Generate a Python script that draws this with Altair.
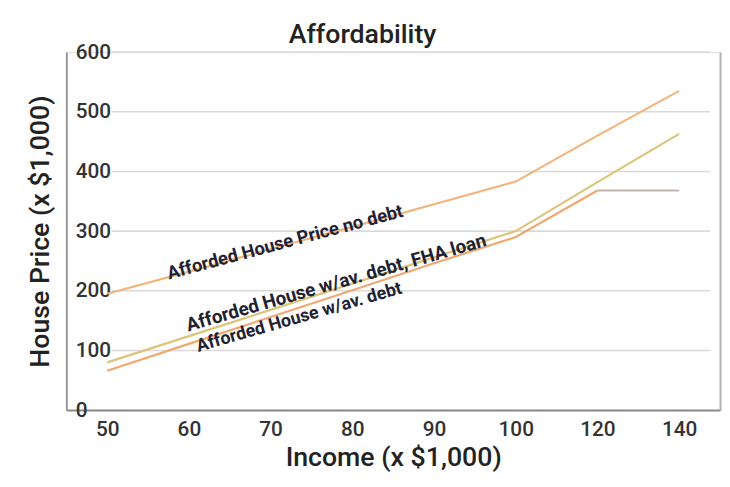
import altair as alt
import pandas as pd

# ---- data ----
incomes = ["50", "60", "70", "80", "90", "100", "120", "140"]
no_debt = [195, 232, 270, 307, 345, 383, 460, 535]
fha_loan = [80, 124, 168, 212, 256, 300, 382, 463]
av_debt = [66, 111, 156, 201, 246, 290, 368]          # ends at 120
cap_x = ["120", "140"]
cap_y = [368, 368]
grid_values = [100, 200, 300, 400, 500, 600]

series_names = ["no debt", "FHA loan", "av. debt", "cap"]
series_colors = ["#f3b47c", "#dcc47a", "#f1a870", "#c2b4ad"]

rows = []
for name, xs, ys in [
    ("no debt", incomes, no_debt),
    ("FHA loan", incomes, fha_loan),
    ("av. debt", incomes[:len(av_debt)], av_debt),
    ("cap", cap_x, cap_y),
]:
    for x, y in zip(xs, ys):
        rows.append({"series": name, "income": x, "price": y, "idx": incomes.index(x)})
lines_df = pd.DataFrame(rows)
grid_df = pd.DataFrame({"v": grid_values})

labels = ["Afforded House Price no debt",
          "Afforded House w/av. debt, FHA loan",
          "Afforded House w/av. debt"]
label_x = ["70", "80", "70"]
label_y = [275, 221, 141]
label_dx = [15, -17, 30]
label_angle = [345, 344, 344]
label_size = [18.5, 19, 18]

FONT = "Roboto, Liberation Sans, sans-serif"
W, H = 661, 362

xscale = alt.Scale(type="point", domain=incomes, padding=0.5)
yscale = alt.Scale(domain=[0, 600], nice=False, zero=True)

grid = alt.Chart(grid_df).mark_rule(color="#dadada", strokeWidth=1.6).encode(
    y=alt.Y("v:Q", scale=yscale,
            axis=alt.Axis(orient="left", title="House Price (x $1,000)",
                          values=[0, 100, 200, 300, 400, 500, 600],
                          grid=False, ticks=False, domain=True,
                          domainColor="#9a9a9a", domainWidth=2,
                          labelAlign="left", labelPadding=-9,
                          labelFont=FONT, labelFontSize=21, labelColor="#333333",
                          labelFontWeight=500,
                          labelFlush=False, labelOverlap=False, labelBound=False,
                          titleFont=FONT, titleFontSize=27, titleColor="#222222",
                          titleFontWeight=500, titlePadding=12)),
    x=alt.value(46),
    x2=alt.value(651),
)

right_frame = alt.Chart(grid_df).mark_rule(opacity=0).encode(
    y=alt.Y("v:Q", scale=yscale,
            axis=alt.Axis(orient="right", title=None, labels=False, ticks=False,
                          grid=False, domain=True, domainColor="#b0b0b0",
                          domainWidth=2)),
    x=alt.value(0),
    x2=alt.value(1),
)

lines = alt.Chart(lines_df).mark_line(strokeWidth=2.2).encode(
    x=alt.X("income:O", scale=xscale, sort=incomes,
            axis=alt.Axis(title="Income (x $1,000)", labelAngle=0, ticks=False,
                          grid=False, domain=True, domainColor="#8a8a8a",
                          domainWidth=2, labelPadding=9,
                          labelFont=FONT, labelFontSize=21, labelColor="#333333",
                          labelFontWeight=500,
                          titleFont=FONT, titleFontSize=27, titleColor="#222222",
                          titleFontWeight=500, titlePadding=5)),
    y=alt.Y("price:Q", scale=yscale, axis=None),
    color=alt.Color("series:N", scale=alt.Scale(domain=series_names, range=series_colors),
                    legend=None),
    order=alt.Order("idx:Q"),
)

text_layers = []
for lab, lx, ly, ldx, lang, lsz in zip(labels, label_x, label_y, label_dx,
                                      label_angle, label_size):
    tdf = pd.DataFrame({"label": [lab], "income": [lx], "price": [ly]})
    t = alt.Chart(tdf).mark_text(
        font=FONT, fontSize=lsz, fontWeight="bold", color="#1f2233",
        angle=lang, dx=ldx, align="center", baseline="middle",
    ).encode(
        x=alt.X("income:O", scale=xscale, sort=incomes, axis=None),
        y=alt.Y("price:Q", scale=yscale, axis=None),
        text="label:N",
    )
    text_layers.append(t)

chart = alt.layer(grid, right_frame, lines, *text_layers).resolve_axis(
    y="independent", x="independent"
).properties(
    width=W, height=H,
    title=alt.TitleParams("Affordability", font=FONT, fontSize=27,
                          fontWeight=500, color="#222222",
                          anchor="middle", dx=-31, dy=11, offset=3),
    autosize=alt.AutoSizeParams(type="none"),
    padding={"left": 59, "top": 42, "right": 2, "bottom": 60},
).configure_view(stroke=None).configure(background="white")

chart.save("out.html", embed_options={"renderer": "svg", "actions": False})
